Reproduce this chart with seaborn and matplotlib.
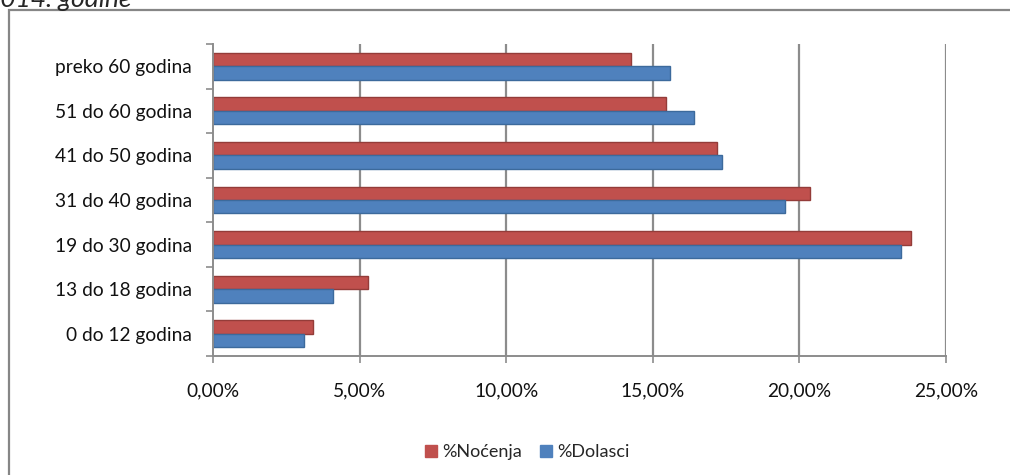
import pandas as pd
import seaborn as sns
import matplotlib.pyplot as plt
from matplotlib.patches import Rectangle
from matplotlib.ticker import FuncFormatter, FixedLocator

# Age groups, top to bottom as shown in the chart
age_groups = ["preko 60 godina", "51 do 60 godina", "41 do 50 godina",
              "31 do 40 godina", "19 do 30 godina", "13 do 18 godina",
              "0 do 12 godina"]
nocenja = [14.25, 15.45, 17.2, 20.35, 23.8, 5.3, 3.4]
dolasci = [15.6, 16.4, 17.35, 19.5, 23.45, 4.1, 3.1]
series_names = ["%Noćenja", "%Dolasci"]
series_colors = ["#C0504D", "#4F81BD"]
x_ticks = [0, 5, 10, 15, 20, 25]

df = pd.DataFrame({"grupa": age_groups, series_names[0]: nocenja,
                   series_names[1]: dolasci})
df_long = df.melt(id_vars="grupa", var_name="serija", value_name="udio")

sns.set_style("white")
plt.rcParams["font.family"] = ["Lato", "DejaVu Sans"]

fig = plt.figure(figsize=(10.1, 4.75), dpi=100)
ax = fig.add_axes([213 / 1010, 1 - 356 / 475, 733 / 1010, 312 / 475])

sns.barplot(data=df_long, y="grupa", x="udio", hue="serija",
            hue_order=series_names, palette=series_colors, order=age_groups,
            orient="h", width=0.6, saturation=1, ax=ax, legend=False)

# darker edge to hint at the 3D bars
for bar, col in zip(ax.patches, ["#943C39"] * 7 + ["#3C6A9C"] * 7):
    bar.set_edgecolor(col)
    bar.set_linewidth(1.0)

ax.set_xlim(0, 25)
ax.set_ylim(6.5, -0.5)
ax.xaxis.set_major_locator(FixedLocator(x_ticks))
ax.xaxis.set_major_formatter(
    FuncFormatter(lambda v, p: f"{v:.2f}%".replace(".", ",")))
ax.set_xlabel("")
ax.set_ylabel("")

# vertical gridlines (back wall)
for t in x_ticks[1:]:
    ax.axvline(t, color="#8C8C8C", lw=1.6, zorder=0)

for s in ["top", "right"]:
    ax.spines[s].set_visible(False)
for s in ["left", "bottom"]:
    ax.spines[s].set_color("#8C8C8C")
    ax.spines[s].set_linewidth(1.4)

ax.yaxis.set_minor_locator(FixedLocator([i - 0.5 for i in range(8)]))
ax.tick_params(axis="y", which="major", length=0, pad=15, labelsize=13.8,
               labelcolor="#111111")
ax.tick_params(axis="y", which="minor", length=5, width=1.2,
               color="#8C8C8C", left=True)
ax.tick_params(axis="x", length=5, width=1.2, color="#8C8C8C",
               pad=14, labelsize=13.8, labelcolor="#111111", bottom=True)

# legend at the bottom
handles = [plt.Line2D([], [], marker="s", ls="", color=c, markersize=8)
           for c in series_colors]
fig.legend(handles, series_names, loc="center", ncol=2, frameon=False,
           bbox_to_anchor=(0.522, 1 - 452 / 475), fontsize=13,
           handlelength=0.7, handletextpad=0.25, columnspacing=1.0)

# chart frame and clipped caption above it
fig.add_artist(Rectangle((9 / 1010, -0.1), 1.1, 1 - 10 / 475 + 0.1,
                         transform=fig.transFigure, fill=False,
                         edgecolor="#868686", lw=1.6))
fig.text(-15 / 1010, 1 - 7 / 475, "2014. godine", fontsize=19,
         fontstyle="italic", va="baseline", ha="left")

plt.savefig("out.png", dpi=100)
plt.close()
